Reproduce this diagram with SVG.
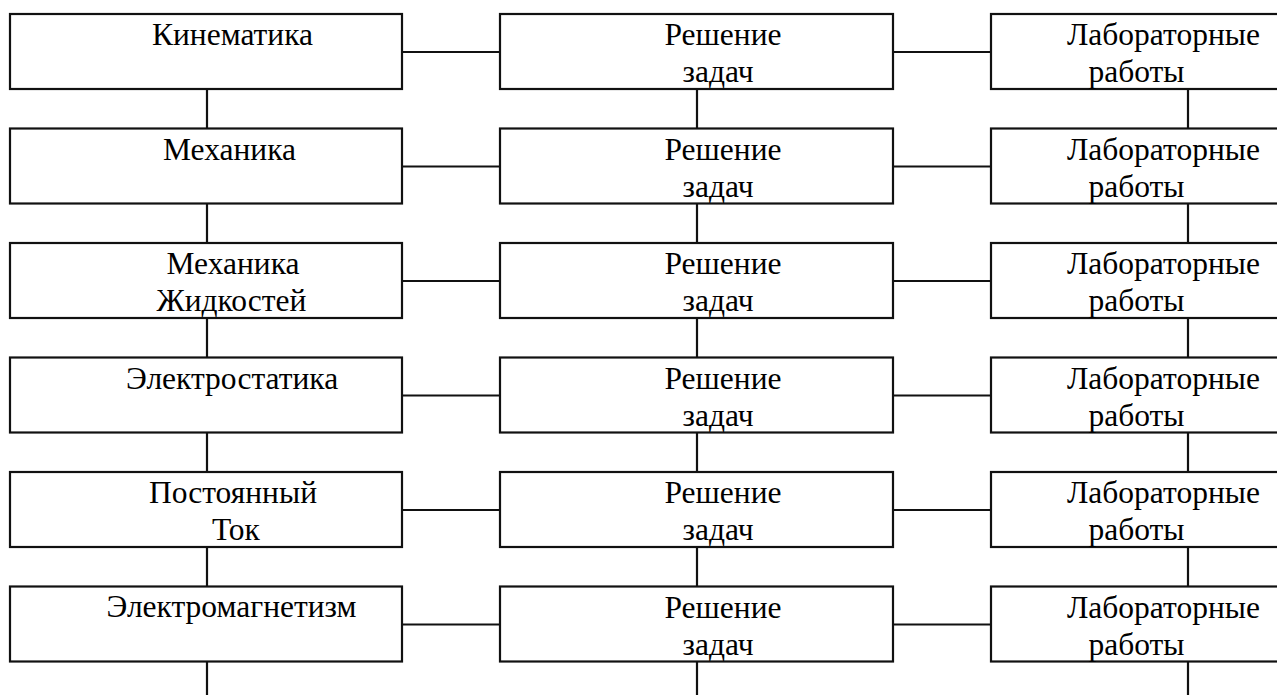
<svg xmlns="http://www.w3.org/2000/svg" width="1277" height="695" viewBox="0 0 1277 695">
<style>
.box{fill:#fff;stroke:#111;stroke-width:2.2}
.c{stroke:#111;stroke-width:2.2;fill:none}
text{font-family:'Liberation Serif','Times New Roman',serif;font-size:31.5px;fill:#000}
</style>
<rect x="0" y="0" width="1277" height="695" fill="#fff"/>
<g id="connectors">
<path class="c" d="M402 52H500M893 52H991M402 166.5H500M893 166.5H991M402 281H500M893 281H991M402 395.5H500M893 395.5H991M402 510H500M893 510H991M402 624.5H500M893 624.5H991"/>
<path class="c" d="M207 89V128.5M207 203.5V243M207 318V357.5M207 432.5V472M207 547V586.5M207 661.5V695"/>
<path class="c" d="M697 89V128.5M697 203.5V243M697 318V357.5M697 432.5V472M697 547V586.5M697 661.5V695"/>
<path class="c" d="M1188 89V128.5M1188 203.5V243M1188 318V357.5M1188 432.5V472M1188 547V586.5M1188 661.5V695"/>
</g>
<g id="n1"><rect class="box" x="10" y="14" width="392" height="75"/><text x="152" y="45">Кинематика</text></g>
<g id="n2"><rect class="box" x="10" y="128.5" width="392" height="75"/><text x="163" y="159.5">Механика</text></g>
<g id="n3"><rect class="box" x="10" y="243" width="392" height="75"/><text x="166.5" y="274">Механика</text><text x="156.5" y="311">Жидкостей</text></g>
<g id="n4"><rect class="box" x="10" y="357.5" width="392" height="75"/><text x="126" y="388.5">Электростатика</text></g>
<g id="n5"><rect class="box" x="10" y="472" width="392" height="75"/><text x="149" y="503">Постоянный</text><text x="212" y="540">Ток</text></g>
<g id="n6"><rect class="box" x="10" y="586.5" width="392" height="75"/><text x="106.5" y="617">Электромагнетизм</text></g>
<g id="m1"><rect class="box" x="500" y="14" width="393" height="75"/><text x="664.5" y="45">Решение</text><text x="682.5" y="82">задач</text></g>
<g id="m2"><rect class="box" x="500" y="128.5" width="393" height="75"/><text x="664.5" y="159.5">Решение</text><text x="682.5" y="196.5">задач</text></g>
<g id="m3"><rect class="box" x="500" y="243" width="393" height="75"/><text x="664.5" y="274">Решение</text><text x="682.5" y="311">задач</text></g>
<g id="m4"><rect class="box" x="500" y="357.5" width="393" height="75"/><text x="664.5" y="388.5">Решение</text><text x="682.5" y="425.5">задач</text></g>
<g id="m5"><rect class="box" x="500" y="472" width="393" height="75"/><text x="664.5" y="503">Решение</text><text x="682.5" y="540">задач</text></g>
<g id="m6"><rect class="box" x="500" y="586.5" width="393" height="75"/><text x="664.5" y="617.5">Решение</text><text x="682.5" y="654.5">задач</text></g>
<g id="r1"><rect class="box" x="991" y="14" width="300" height="75"/><text x="1067" y="45">Лабораторные</text><text x="1088.5" y="82">работы</text></g>
<g id="r2"><rect class="box" x="991" y="128.5" width="300" height="75"/><text x="1067" y="159.5">Лабораторные</text><text x="1088.5" y="196.5">работы</text></g>
<g id="r3"><rect class="box" x="991" y="243" width="300" height="75"/><text x="1067" y="274">Лабораторные</text><text x="1088.5" y="311">работы</text></g>
<g id="r4"><rect class="box" x="991" y="357.5" width="300" height="75"/><text x="1067" y="388.5">Лабораторные</text><text x="1088.5" y="425.5">работы</text></g>
<g id="r5"><rect class="box" x="991" y="472" width="300" height="75"/><text x="1067" y="503">Лабораторные</text><text x="1088.5" y="540">работы</text></g>
<g id="r6"><rect class="box" x="991" y="586.5" width="300" height="75"/><text x="1067" y="617.5">Лабораторные</text><text x="1088.5" y="654.5">работы</text></g>
</svg>
